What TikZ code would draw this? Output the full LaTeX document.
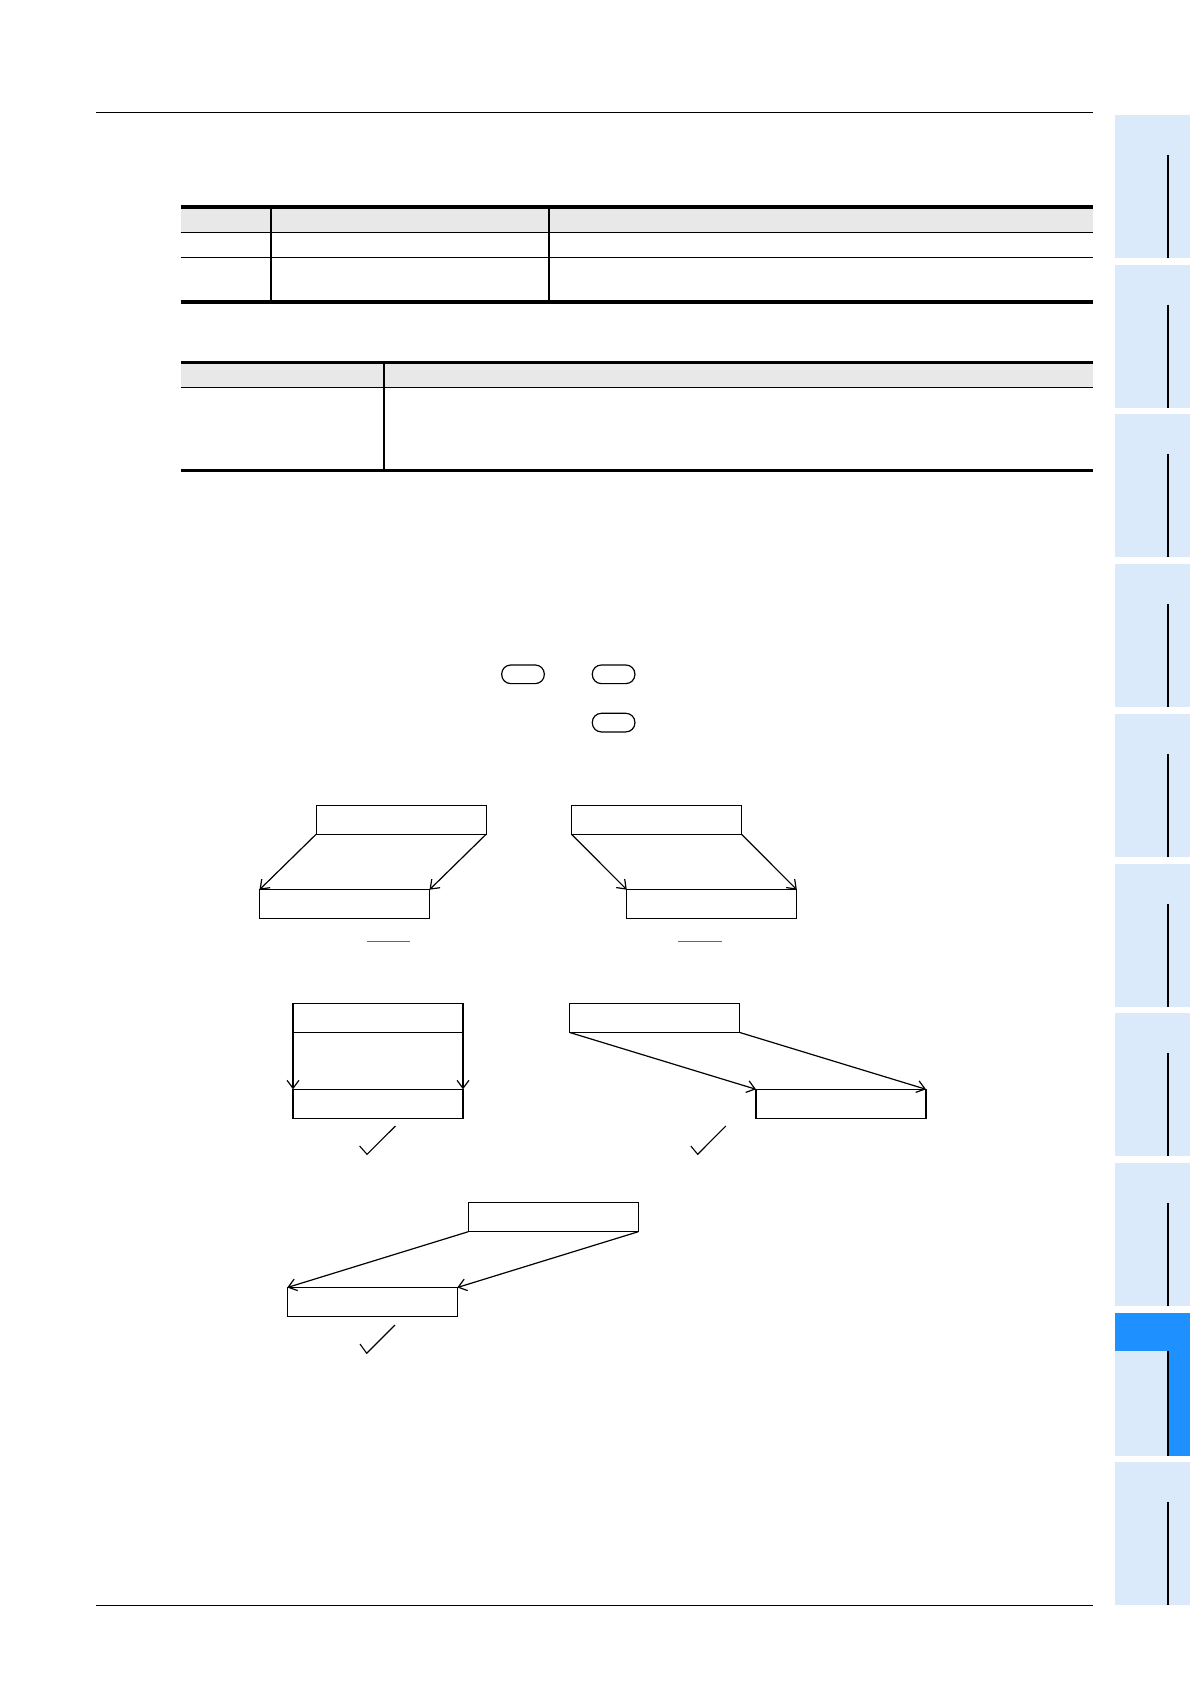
\documentclass[tikz,border=0pt]{standalone}
\usetikzlibrary{arrows.meta}
\definecolor{tablight}{HTML}{DAEAFB}
\definecolor{tabdark}{HTML}{1E90FF}
\definecolor{headgray}{HTML}{E8E8E8}
\begin{document}
\begin{tikzpicture}[x=0.5pt, y=-0.5pt,
    regbox/.style={draw, line width=0.65pt, minimum width=85pt, minimum height=14.5pt, inner sep=0pt, outer sep=0pt},
    keybox/.style={draw, line width=0.6pt, rounded corners=4.5pt, minimum width=21.3pt, minimum height=9.3pt, inner sep=0pt, outer sep=0pt},
    xfer/.style={line width=0.6pt, -{Straight Barb[length=4pt,width=6pt]}},
    tick/.style={line width=0.55pt},
    rule/.style={line width=1.85pt}]
    \useasboundingbox (0,0) rectangle (1190,1684);

    % page rules
    \draw[line width=0.5pt] (96,113) -- (1093,113);
    \draw[line width=0.5pt] (96,1605) -- (1093,1605);

    % side tabs
    \foreach \i in {0,...,9} {
        \pgfmathsetmacro{\tabtop}{115+149.7*\i}
        \fill[tablight] (1115,\tabtop) rectangle (1190,\tabtop+143);
        \draw[line width=0.85pt] (1168,\tabtop+40) -- (1168,\tabtop+143);
    }
    \fill[tabdark] (1115,1312.6) rectangle (1190,1351);
    \fill[tabdark] (1168,1351) rectangle (1190,1455.6);
    \draw[line width=0.85pt] (1168,1351) -- (1168,1455.6);

    % table 1
    \fill[headgray] (180.5,208.7) rectangle (1093,232.3);
    \draw[line width=0.6pt] (180.5,232.3) -- (1093,232.3) (180.5,257.3) -- (1093,257.3);
    \draw[line width=0.6pt] (271,207) -- (271,302.3) (549,207) -- (549,302.3);
    \draw[rule] (180.5,207) -- (1093,207) (180.5,302.3) -- (1093,302.3);

    % table 2
    \fill[headgray] (180.5,364) rectangle (1093,387.3);
    \draw[line width=0.6pt] (180.5,387.3) -- (1093,387.3) (384,362.5) -- (384,470.5);
    \draw[rule] (180.5,362.5) -- (1093,362.5) (180.5,470.5) -- (1093,470.5);

    % keys
    \node[keybox] (keyA) at (523,674.3) {};
    \node[keybox] (keyB) at (613.6,674.3) {};
    \node[keybox] (keyC) at (613.6,722.6) {};

    % shift to the left
    \node[regbox] (srcA) at (401.2,819.7) {};
    \node[regbox] (dstA) at (344.5,904.2) {};
    \draw[xfer] (srcA.south west) -- (dstA.north west);
    \draw[xfer] (srcA.south east) -- (dstA.north east);
    \draw[black!60, line width=0.75pt] (367,941.7) -- (410.3,941.7);

    % shift to the right
    \node[regbox] (srcB) at (656.4,819.7) {};
    \node[regbox] (dstB) at (711.8,904.2) {};
    \draw[xfer] (srcB.south west) -- (dstB.north west);
    \draw[xfer] (srcB.south east) -- (dstB.north east);
    \draw[black!60, line width=0.75pt] (678,941.7) -- (721.5,941.7);

    % same position
    \node[regbox] (srcC) at (378,1018) {};
    \node[regbox] (dstC) at (378,1103.8) {};
    \draw[xfer] (srcC.south west) -- (dstC.north west);
    \draw[xfer] (srcC.south east) -- (dstC.north east);
    \draw[tick] (359.6,1146) -- (367,1154.3) -- (395.5,1126);

    % far right
    \node[regbox] (srcD) at (654.8,1018) {};
    \node[regbox] (dstD) at (841,1103.8) {};
    \draw[xfer] (srcD.south west) -- (dstD.north west);
    \draw[xfer] (srcD.south east) -- (dstD.north east);
    \draw[tick] (690.8,1146) -- (697.7,1154.3) -- (725.8,1126);

    % far left
    \node[regbox] (srcE) at (553.3,1217.2) {};
    \node[regbox] (dstE) at (372.3,1302) {};
    \draw[xfer] (srcE.south west) -- (dstE.north west);
    \draw[xfer] (srcE.south east) -- (dstE.north east);
    \draw[tick] (360,1344) -- (366.7,1353.3) -- (395,1325);
\end{tikzpicture}
\end{document}
